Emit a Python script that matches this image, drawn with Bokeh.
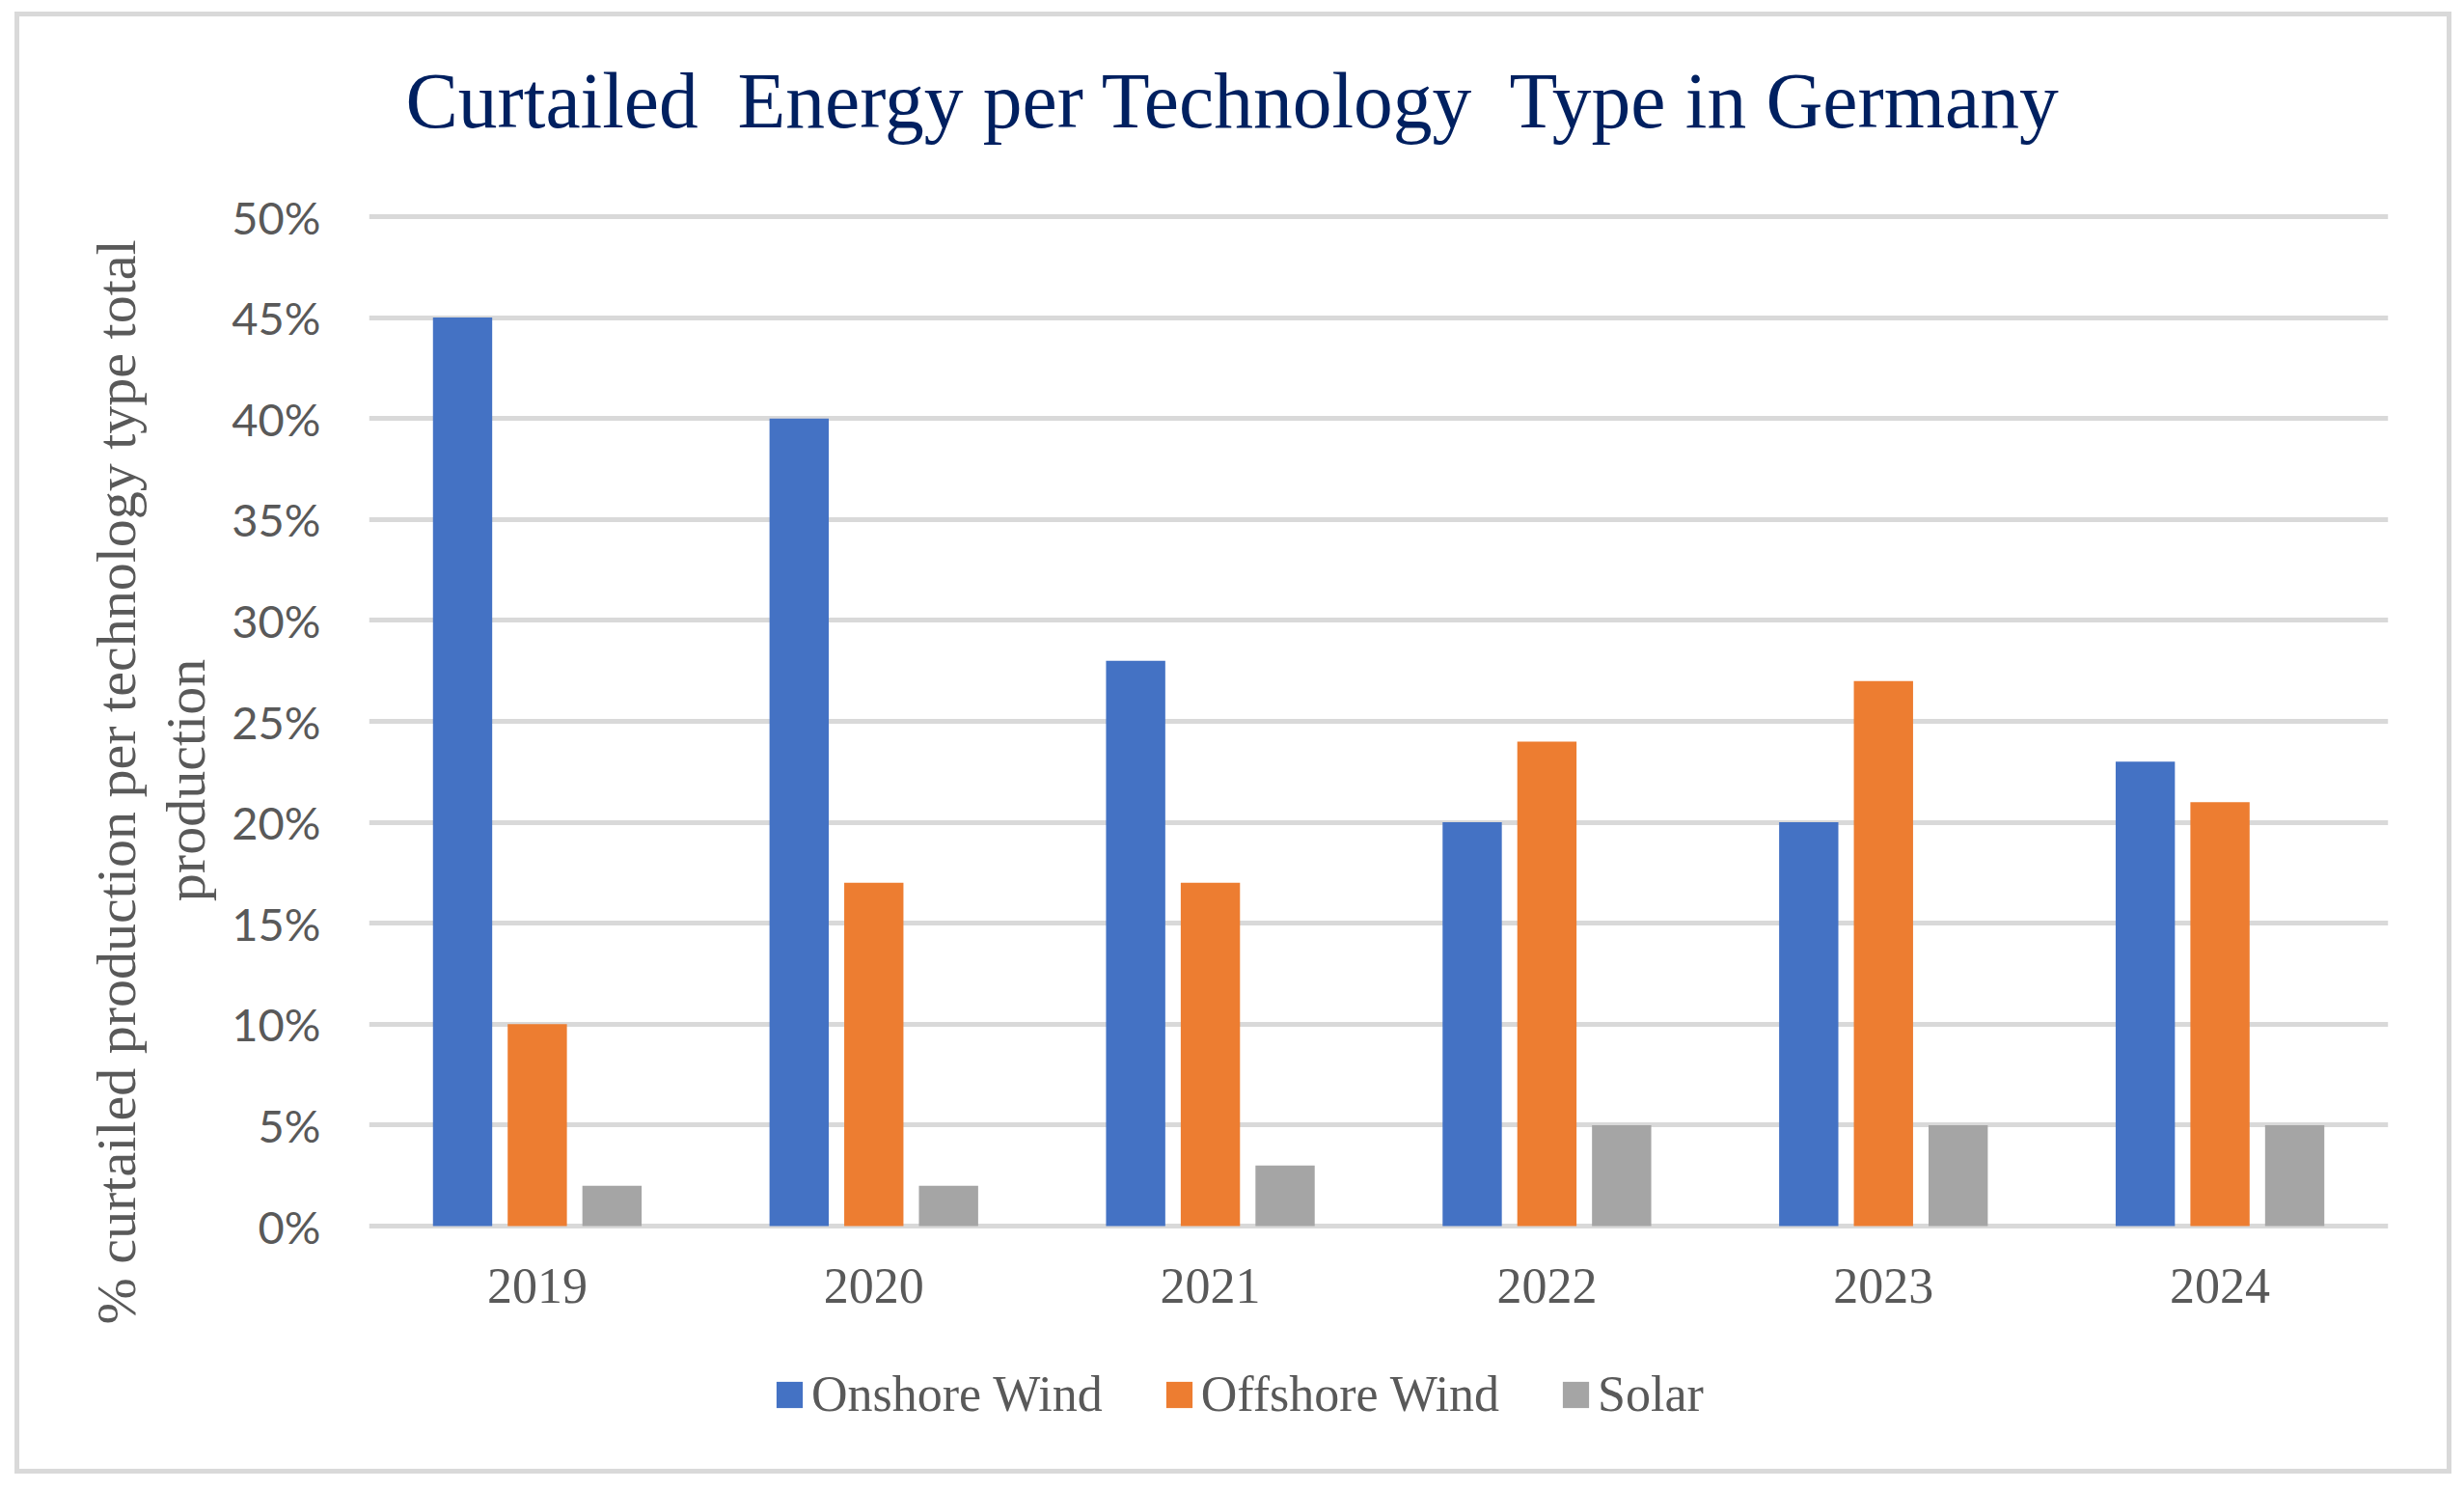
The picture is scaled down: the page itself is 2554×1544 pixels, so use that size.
import math
from bokeh.plotting import figure
from bokeh.models import (FactorRange, Range1d, FixedTicker, PrintfTickFormatter,
                          Legend, LegendItem, Title, ColumnDataSource)
from bokeh.transform import dodge
from bokeh.embed import file_html
from bokeh.resources import INLINE

# ---- data ----
years = ["2019", "2020", "2021", "2022", "2023", "2024"]
onshore_wind = [45, 40, 28, 20, 20, 23]
offshore_wind = [10, 17, 17, 24, 27, 21]
solar = [2, 2, 3, 5, 5, 5]
series_names = ["Onshore Wind", "Offshore Wind", "Solar"]
series_colors = ["#4472C4", "#ED7D31", "#A5A5A5"]
y_ticks = [0, 5, 10, 15, 20, 25, 30, 35, 40, 45, 50]
title_text = "Curtailed\u00a0 Energy per Technology\u00a0 Type in Germany"
ylabel_lines = ["% curtailed production per technology type total", "production"]

# ---- layout constants (pixels, canvas coordinates) ----
BORDER = 5
W, H = 2526, 1515
PX_PER_UNIT = 20.92          # pixels per percentage point
GRID50_Y = 207               # canvas y of the 50% gridline
ZERO_Y = 1253                # canvas y of the 0% gridline
FRAME_TOP = 97
FRAME_BOTTOM_BORDER = 30
TEXT_GREY = "#595959"

y_top = 50 + (GRID50_Y - FRAME_TOP) / PX_PER_UNIT
y_bottom = -((H - FRAME_BOTTOM_BORDER) - ZERO_Y) / PX_PER_UNIT

src = ColumnDataSource(dict(year=years, onshore=onshore_wind,
                            offshore=offshore_wind, solar=solar))

p = figure(width=W, height=H,
           x_range=FactorRange(*years, range_padding=0),
           y_range=Range1d(y_bottom, y_top),
           output_backend="svg", toolbar_location=None,
           min_border_left=362, min_border_right=71,
           min_border_top=FRAME_TOP, min_border_bottom=FRAME_BOTTOM_BORDER,
           background_fill_color="white", border_fill_color="white")
p.outline_line_color = None
p.styles = {"border": f"{BORDER}px solid #D9D9D9"}
p.margin = (12, 0, 0, 15)

# bars
cols = ["onshore", "offshore", "solar"]
offsets = [-0.222, 0.0, 0.222]
renderers = []
for col, off, color in zip(cols, offsets, series_colors):
    r = p.vbar(x=dodge("year", off, range=p.x_range), top=col, bottom=0,
               width=0.176, source=src, fill_color=color, line_color=None)
    renderers.append(r)

# grid
p.xgrid.grid_line_color = None
p.ygrid.ticker = FixedTicker(ticks=y_ticks)
p.ygrid.grid_line_color = "#D9D9D9"
p.ygrid.grid_line_width = 5

# y axis (tick labels + second line of the axis title)
p.yaxis.ticker = FixedTicker(ticks=y_ticks)
p.yaxis.formatter = PrintfTickFormatter(format="%d%%")
p.yaxis.axis_line_color = None
p.yaxis.major_tick_line_color = None
p.yaxis.minor_tick_line_color = None
p.yaxis.major_tick_out = 0
p.yaxis.major_tick_in = 0
p.yaxis.major_label_standoff = 50
p.yaxis.major_label_text_font = "Lato"
p.yaxis.major_label_text_font_size = "47px"
p.yaxis.major_label_text_color = TEXT_GREY
p.yaxis.axis_label = ylabel_lines[1]
p.yaxis.axis_label_standoff = 12
p.yaxis.axis_label_text_font = "Liberation Serif"
p.yaxis.axis_label_text_font_size = "58px"
p.yaxis.axis_label_text_font_style = "normal"
p.yaxis.axis_label_text_color = TEXT_GREY

# first line of the y axis title
p.add_layout(Title(text=ylabel_lines[0], align="left", offset=130, standoff=10,
                   vertical_align="bottom",
                   text_font="Liberation Serif", text_font_size="58px",
                   text_font_style="normal", text_color=TEXT_GREY), "left")

# x axis, pinned at 0 so the legend can sit inside the frame below it
p.xaxis.fixed_location = 0
p.xaxis.axis_line_color = None
p.xaxis.major_tick_line_color = None
p.xaxis.minor_tick_line_color = None
p.xaxis.major_tick_out = 0
p.xaxis.major_tick_in = 0
p.xaxis.major_label_standoff = 44
p.xaxis.major_label_text_font = "Liberation Serif"
p.xaxis.major_label_text_font_size = "52px"
p.xaxis.major_label_text_color = TEXT_GREY

# title
p.title.text = title_text
p.title.text_font = "Liberation Serif"
p.title.text_font_size = "81.5px"
p.title.text_font_style = "normal"
p.title.text_color = "#002060"
p.title.align = "left"
p.title.offset = 38
p.title.standoff = -71

# legend
legend = Legend(items=[LegendItem(label=n, renderers=[r]) for n, r in zip(series_names, renderers)],
                orientation="horizontal", location=(419, 28),
                glyph_width=34, glyph_height=34, label_standoff=6, spacing=62,
                padding=10, border_line_color=None, background_fill_alpha=0,
                label_text_font="Liberation Serif", label_text_font_size="52px",
                label_text_color=TEXT_GREY)
p.add_layout(legend)

open("out.html", "w").write(file_html(p, INLINE))
